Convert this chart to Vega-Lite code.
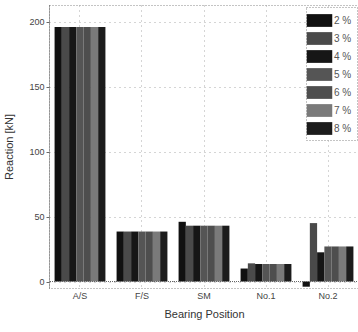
{
  "$schema": "https://vega.github.io/schema/vega-lite/v6.json",
  "width": 310,
  "height": 283,
  "autosize": {"type": "none"},
  "padding": {"left": 49, "top": 5, "right": 0, "bottom": 44},
  "background": "white",
  "config": {
    "font": "Liberation Sans",
    "view": {"stroke": "#888", "strokeDash": [1, 2], "strokeWidth": 1},
    "axis": {
      "gridColor": "#aaa",
      "gridDash": [1, 4],
      "gridWidth": 1,
      "labelFont": "Liberation Sans",
      "titleFont": "Liberation Sans",
      "labelColor": "#444",
      "titleColor": "#333",
      "titleFontWeight": "normal",
      "domainColor": "#666",
      "domainDash": [1, 1],
      "tickColor": "#666"
    }
  },
  "data": {
    "values": [
      {"pos": "A/S", "pct": "2 %", "v": 196},
      {"pos": "A/S", "pct": "3 %", "v": 196},
      {"pos": "A/S", "pct": "4 %", "v": 196},
      {"pos": "A/S", "pct": "5 %", "v": 196},
      {"pos": "A/S", "pct": "6 %", "v": 196},
      {"pos": "A/S", "pct": "7 %", "v": 196},
      {"pos": "A/S", "pct": "8 %", "v": 196},
      {"pos": "F/S", "pct": "2 %", "v": 38.5},
      {"pos": "F/S", "pct": "3 %", "v": 38.5},
      {"pos": "F/S", "pct": "4 %", "v": 38.5},
      {"pos": "F/S", "pct": "5 %", "v": 38.5},
      {"pos": "F/S", "pct": "6 %", "v": 38.5},
      {"pos": "F/S", "pct": "7 %", "v": 38.5},
      {"pos": "F/S", "pct": "8 %", "v": 38.5},
      {"pos": "SM", "pct": "2 %", "v": 46},
      {"pos": "SM", "pct": "3 %", "v": 43},
      {"pos": "SM", "pct": "4 %", "v": 43},
      {"pos": "SM", "pct": "5 %", "v": 43},
      {"pos": "SM", "pct": "6 %", "v": 43},
      {"pos": "SM", "pct": "7 %", "v": 43},
      {"pos": "SM", "pct": "8 %", "v": 43},
      {"pos": "No.1", "pct": "2 %", "v": 10},
      {"pos": "No.1", "pct": "3 %", "v": 14},
      {"pos": "No.1", "pct": "4 %", "v": 13.5},
      {"pos": "No.1", "pct": "5 %", "v": 13.5},
      {"pos": "No.1", "pct": "6 %", "v": 13.5},
      {"pos": "No.1", "pct": "7 %", "v": 13.5},
      {"pos": "No.1", "pct": "8 %", "v": 13.5},
      {"pos": "No.2", "pct": "2 %", "v": -4},
      {"pos": "No.2", "pct": "3 %", "v": 45},
      {"pos": "No.2", "pct": "4 %", "v": 22.5},
      {"pos": "No.2", "pct": "5 %", "v": 27},
      {"pos": "No.2", "pct": "6 %", "v": 27},
      {"pos": "No.2", "pct": "7 %", "v": 27},
      {"pos": "No.2", "pct": "8 %", "v": 27}
    ]
  },
  "layer": [
    {
      "mark": {"type": "bar"},
      "encoding": {
        "x": {
          "field": "pos",
          "type": "nominal",
          "sort": ["A/S", "F/S", "SM", "No.1", "No.2"],
          "scale": {"paddingInner": 0.18, "paddingOuter": 0.09},
          "axis": {
            "title": "Bearing Position",
            "labelAngle": 0,
            "labelFontSize": 9,
            "labelPadding": 3,
            "titleFontSize": 11,
            "titlePadding": 8,
            "domain": false,
            "ticks": false,
            "grid": true
          }
        },
        "xOffset": {"field": "pct", "type": "nominal", "sort": ["2 %", "3 %", "4 %", "5 %", "6 %", "7 %", "8 %"]},
        "y": {
          "field": "v",
          "type": "quantitative",
          "scale": {"domain": [-5, 213], "nice": false, "zero": false},
          "axis": {
            "title": "Reaction [kN]",
            "values": [0, 50, 100, 150, 200],
            "labelFontSize": 9,
            "titleFontSize": 11,
            "titlePadding": 14,
            "tickSize": 3,
            "grid": true
          }
        },
        "color": {
          "field": "pct",
          "type": "nominal",
          "sort": ["2 %", "3 %", "4 %", "5 %", "6 %", "7 %", "8 %"],
          "scale": {
            "domain": ["2 %", "3 %", "4 %", "5 %", "6 %", "7 %", "8 %"],
            "range": ["#111111", "#4a4a4a", "#161616", "#555555", "#4e4e4e", "#7a7a7a", "#1c1c1c"]
          },
          "legend": {
            "title": null,
            "orient": "top-right",
            "offset": 2,
            "symbolType": "M-1.5,-0.75H1.5V0.75H-1.5Z",
            "symbolSize": 289,
            "symbolStrokeWidth": 0,
            "labelFontSize": 10,
            "labelColor": "#555",
            "labelOffset": 6,
            "rowPadding": 3,
            "padding": 5,
            "strokeColor": "#888",
            "fillColor": "white",
            "encode": {"legend": {"update": {"strokeDash": {"value": [1, 2]}}}}
          }
        }
      }
    },
    {
      "mark": {"type": "rule", "color": "#666", "strokeDash": [1, 1], "strokeWidth": 1},
      "encoding": {"y": {"datum": 0}}
    }
  ]
}
